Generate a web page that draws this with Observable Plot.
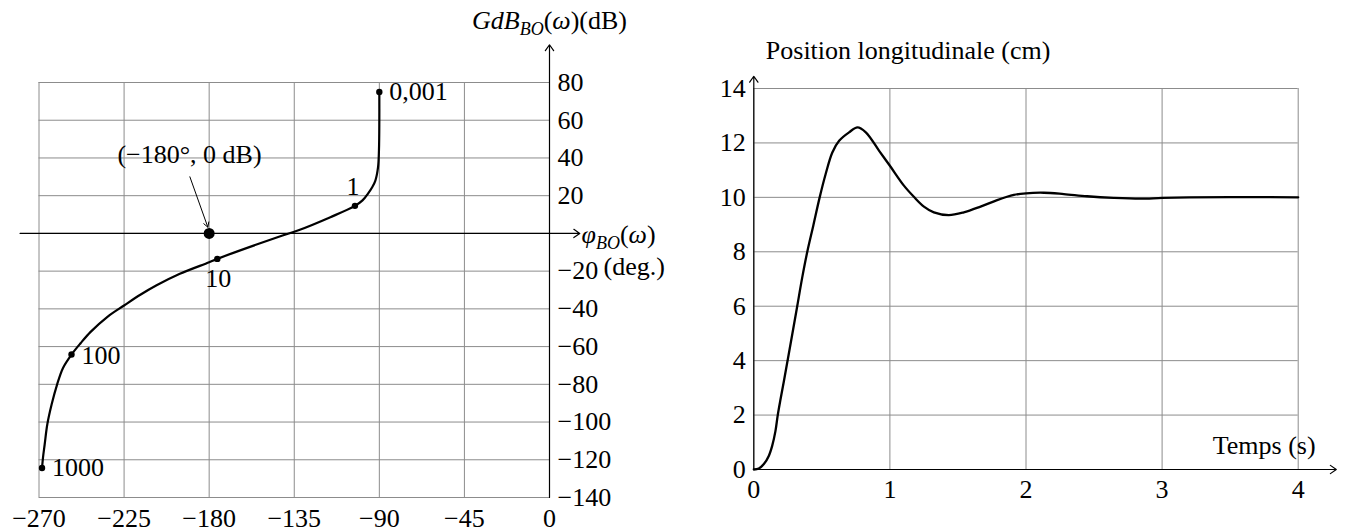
<!DOCTYPE html>
<html><head><meta charset="utf-8">
<script src="https://cdn.jsdelivr.net/npm/d3@7"></script>
<script src="https://cdn.jsdelivr.net/npm/@observablehq/plot@0.6"></script>
<style>
body{margin:0;background:#fff;}
#wrap{position:relative;width:1346px;height:532px;overflow:hidden;background:#fff;}
#wrap svg{position:absolute;top:0;overflow:visible;}
</style></head><body><div id="wrap"></div>
<script>
// ---------- Left chart: Black-Nichols plot ----------
const phaseTicks = [-270, -225, -180, -135, -90, -45, 0];
const gainTicks = [80, 60, 40, 20, 0, -20, -40, -60, -80, -100, -120, -140];
const gainTickLabels = [80, 60, 40, 20, -20, -40, -60, -80, -100, -120, -140];
const curvePhase = [-90, -90, -90.2, -90.7, -92.1, -93.7, -96, -98.9, -102.9, -115.9, -132.4, -143.5, -175.7, -180, -195.5, -207.8, -216.2, -225, -233.8, -242.7, -248, -252.8, -257.3, -260.4, -263.3, -265.6, -267, -267.9, -268.4];
const curveGain  = [75, 60, 44, 35, 28, 24.6, 21.1, 17.5, 14.6, 8.6, 1.8, -1.9, -13.5, -15.3, -21.4, -27.5, -32.4, -38.2, -44.2, -52.2, -58.2, -64.2, -71.3, -80, -90.6, -101.2, -111.9, -119, -124.4];
const omegaLabels = ["0,001", "1", "10", "100", "1000"];
const omegaPhase = [-90, -102.9, -175.7, -252.8, -268.4];
const omegaGain  = [75, 14.6, -13.5, -64.2, -124.4];
const criticalLabel = "(−180°, 0 dB)";
const criticalPhase = -180, criticalGain = 0;
const criticalTextPhase = -190.4, criticalTextGain = 42;
const criticalArrowFrom = [-190.2, 30];
const criticalArrowTo = [-180.7, 3.3];
const phaseAxisExtent = [-280, 16];
const gainAxisExtent = [-140, 100];
const gainTitle = "GdB_BO(ω)(dB)";
const phaseTitle = "φ_BO(ω)";
const phaseUnit = "(deg.)";

// ---------- Right chart: step response ----------
const timeTicks = [0, 1, 2, 3, 4];
const posTicks = [0, 2, 4, 6, 8, 10, 12, 14];
const timeValues = [0, 0.037, 0.074, 0.110, 0.135, 0.159, 0.176, 0.196, 0.221, 0.251, 0.283, 0.319, 0.356, 0.393, 0.437, 0.484, 0.528, 0.577, 0.627, 0.70, 0.762, 0.823, 0.921, 1.0, 1.103, 1.176, 1.25, 1.323, 1.433, 1.543, 1.666, 1.788, 1.911, 2.0, 2.131, 2.278, 2.449, 2.645, 2.841, 3.0, 3.2, 3.5, 4.0];
const posValues  = [0, 0.04, 0.2, 0.5, 0.87, 1.41, 2.0, 2.57, 3.24, 4.08, 4.98, 6.0, 7.06, 8.0, 8.96, 10.0, 10.86, 11.65, 12.08, 12.39, 12.57, 12.39, 11.71, 11.16, 10.43, 10.02, 9.66, 9.45, 9.35, 9.45, 9.66, 9.90, 10.09, 10.15, 10.17, 10.12, 10.04, 9.98, 9.95, 9.98, 10.0, 10.01, 10.0];
const timeAxisExtent = [0, 4.28];
const posAxisExtent = [0, 14.45];
const posTitle = "Position longitudinale (cm)";
const timeTitle = "Temps (s)";

// ---------- styles ----------
const FONT = "'Liberation Serif', 'DejaVu Serif', serif";
const FS = 26;
const GRID = "#8c8c8c";
const fmt = v => (v < 0 ? "−" + Math.abs(v) : String(v));

const nichols = curvePhase.map((p, i) => ({p, g: curveGain[i]}));
const omegas = omegaLabels.map((l, i) => ({l, p: omegaPhase[i], g: omegaGain[i]}));
const omegaPlacement = {
  "0,001": {dx: 10, dy: 0, a: "start"},
  "1": {dx: -2, dy: -19, a: "middle"},
  "10": {dx: 1, dy: 20, a: "middle"},
  "100": {dx: 10, dy: 1, a: "start"},
  "1000": {dx: 10, dy: 0, a: "start"}
};

const leftMarks = [
  Plot.ruleX(phaseTicks, {stroke: GRID, strokeWidth: 1}),
  Plot.ruleY(gainTicks, {stroke: GRID, strokeWidth: 1}),
  Plot.arrow([0], {x1: phaseAxisExtent[0], x2: phaseAxisExtent[1], y1: 0, y2: 0, stroke: "#000", strokeWidth: 1.2, headLength: 9, headAngle: 70}),
  Plot.arrow([0], {x1: 0, x2: 0, y1: gainAxisExtent[0], y2: gainAxisExtent[1], stroke: "#000", strokeWidth: 1.2, headLength: 9, headAngle: 70}),
  Plot.line(nichols, {x: "p", y: "g", curve: "catmull-rom", stroke: "#000", strokeWidth: 2.2}),
  Plot.dot(omegas, {x: "p", y: "g", r: 3.2, fill: "#000", stroke: null}),
  Plot.dot([0], {x: criticalPhase, y: criticalGain, r: 5.5, fill: "#000", stroke: null}),
  Plot.arrow([0], {x1: criticalArrowFrom[0], y1: criticalArrowFrom[1], x2: criticalArrowTo[0], y2: criticalArrowTo[1], stroke: "#000", strokeWidth: 1, headLength: 8, headAngle: 60}),
  Plot.text([criticalLabel], {x: criticalTextPhase, y: criticalTextGain, text: d => d, fontSize: FS, textAnchor: "middle", lineAnchor: "middle"}),
  ...omegas.map(o => Plot.text([o], {x: "p", y: "g", text: "l", fontSize: FS, textAnchor: omegaPlacement[o.l].a, dx: omegaPlacement[o.l].dx, dy: omegaPlacement[o.l].dy, lineAnchor: "middle"})),
  Plot.text(phaseTicks, {x: d => d, y: gainAxisExtent[0], text: fmt, fontSize: FS, textAnchor: "middle", lineAnchor: "middle", dy: 21}),
  Plot.text(gainTickLabels, {x: 0, y: d => d, text: fmt, fontSize: FS, textAnchor: "start", lineAnchor: "middle", dx: 8}),
  Plot.text([gainTitle], {x: 0, y: gainAxisExtent[1], text: d => d, fontSize: FS, textAnchor: "middle", lineAnchor: "middle", dy: -24}),
  Plot.text([phaseTitle], {x: 0, y: 0, text: d => d, fontSize: FS, textAnchor: "start", lineAnchor: "middle", dx: 32, dy: 1}),
  Plot.text([phaseUnit], {x: 0, y: 0, text: d => d, fontSize: FS, textAnchor: "start", lineAnchor: "middle", dx: 54, dy: 33})
];

const left = Plot.plot({
  width: 680, height: 532,
  marginLeft: 38.5, marginRight: 131, marginTop: 82, marginBottom: 35,
  x: {domain: [-270, 0], axis: null},
  y: {domain: [-140, 80], axis: null},
  style: {fontFamily: FONT, background: "transparent", overflow: "visible", color: "#000"},
  marks: leftMarks
});

const step = timeValues.map((t, i) => ({t, v: posValues[i]}));
const right = Plot.plot({
  width: 666, height: 532,
  marginLeft: 73.3, marginRight: 48.3, marginTop: 88, marginBottom: 63,
  x: {domain: [0, 4], axis: null},
  y: {domain: [0, 14], axis: null},
  style: {fontFamily: FONT, background: "transparent", overflow: "visible", color: "#000"},
  marks: [
    Plot.ruleX(timeTicks, {stroke: GRID, strokeWidth: 1}),
    Plot.ruleY(posTicks, {stroke: GRID, strokeWidth: 1}),
    Plot.arrow([0], {x1: timeAxisExtent[0], x2: timeAxisExtent[1], y1: 0, y2: 0, stroke: "#000", strokeWidth: 1.2, headLength: 9, headAngle: 70}),
    Plot.arrow([0], {x1: 0, x2: 0, y1: posAxisExtent[0], y2: posAxisExtent[1], stroke: "#000", strokeWidth: 1.2, headLength: 9, headAngle: 70}),
    Plot.line(step, {x: "t", y: "v", curve: "catmull-rom", stroke: "#000", strokeWidth: 2.3}),
    Plot.text(timeTicks, {x: d => d, y: 0, text: fmt, fontSize: FS, textAnchor: "middle", lineAnchor: "middle", dy: 20}),
    Plot.text(posTicks, {x: 0, y: d => d, text: fmt, fontSize: FS, textAnchor: "end", lineAnchor: "middle", dx: -8}),
    Plot.text([posTitle], {x: 0, y: 14, text: d => d, fontSize: FS, textAnchor: "start", lineAnchor: "middle", dx: 12, dy: -38}),
    Plot.text([timeTitle], {x: 4, y: 0, text: d => d, fontSize: FS, textAnchor: "middle", lineAnchor: "middle", dx: -34, dy: -24})
  ]
});

const wrap = document.getElementById("wrap");
left.style.left = "0px";
right.style.left = "680px";
wrap.appendChild(left);
wrap.appendChild(right);

// rich text (italic + subscripts), kept as real text
function rich(svg, key, parts) {
  d3.select(svg).selectAll("text").filter(function () { return this.textContent === key; }).each(function () {
    const t = d3.select(this);
    t.text("");
    let shift = 0;
    for (const p of parts) {
      const s = t.append("tspan").text(p.t);
      if (p.i) s.attr("font-style", "italic");
      const target = p.sub ? 6 : 0;
      if (target !== shift) { s.attr("dy", target - shift); shift = target; }
      if (p.sub) s.attr("font-size", Math.round(FS * 0.7));
    }
  });
}
rich(left, gainTitle, [{t: "GdB", i: true}, {t: "BO", i: true, sub: true}, {t: "("}, {t: "ω", i: true}, {t: ")(dB)"}]);
rich(left, phaseTitle, [{t: "φ", i: true}, {t: "BO", i: true, sub: true}, {t: "("}, {t: "ω", i: true}, {t: ")"}]);
</script></body></html>
